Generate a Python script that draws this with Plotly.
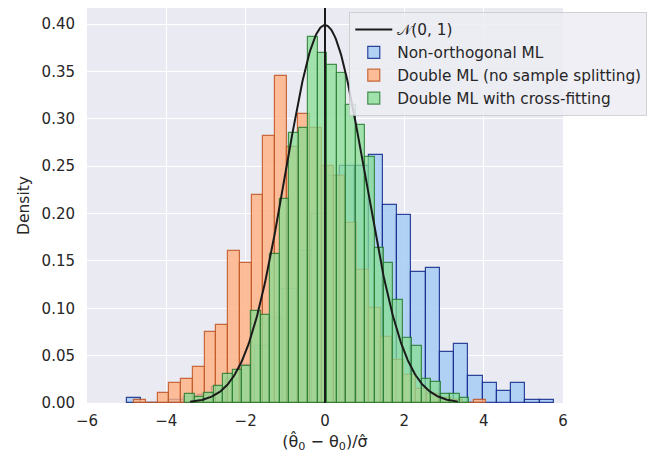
import numpy as np
import plotly.graph_objects as go

# ---------------- data ----------------
series_names = ["Non-orthogonal ML", "Double ML (no sample splitting)", "Double ML with cross-fitting"]
normal_label = "𝒩(0, 1)"

# histogram bin starts / widths (data units) and density heights (30 bins each)
blue_bin_start = -5.0
blue_bin_width = 0.359
blue_density = [0.0056, 0.0, 0.0, 0.003, 0.006, 0.008, 0.017, 0.025, 0.04, 0.06,
                0.09, 0.12, 0.16, 0.20, 0.24, 0.25, 0.25, 0.262, 0.209, 0.198,
                0.138, 0.142, 0.054, 0.062, 0.029, 0.021, 0.013, 0.021, 0.0028, 0.0028]

orange_bin_start = -4.81
orange_bin_width = 0.2957
orange_density = [0.0034, 0.0, 0.011, 0.021, 0.025, 0.038, 0.075, 0.082, 0.160, 0.148,
                  0.22, 0.282, 0.345, 0.27, 0.305, 0.29, 0.25, 0.24, 0.19, 0.14,
                  0.10, 0.07, 0.045, 0.03, 0.015, 0.01, 0.005, 0.0034, 0.0, 0.0034]

green_bin_start = -3.524
green_bin_width = 0.2386
green_density = [0.0098, 0.006, 0.011, 0.018, 0.031, 0.035, 0.039, 0.097, 0.093, 0.157,
                 0.215, 0.285, 0.29, 0.386, 0.369, 0.357, 0.348, 0.315, 0.294, 0.26,
                 0.164, 0.148, 0.109, 0.069, 0.06, 0.025, 0.022, 0.0098, 0.0098, 0.0056]

normal_x_range = [-3.4, 3.35]

x_ticks = [-6, -4, -2, 0, 2, 4, 6]
y_ticks = [0.0, 0.05, 0.10, 0.15, 0.20, 0.25, 0.30, 0.35, 0.40]
x_title = "(θ̂<sub>0</sub> − θ<sub>0</sub>)/σ̂"
y_title = "Density"

# ---------------- figure ----------------
FONT = "DejaVu Sans, sans-serif"
TXT = "#262626"

def centers(start, width, n):
    return [start + width * (i + 0.5) for i in range(n)]

fig = go.Figure()

hist_specs = [
    (blue_bin_start, blue_bin_width, blue_density, "rgba(161,201,244,0.8)", "rgba(15,40,140,0.85)"),
    (orange_bin_start, orange_bin_width, orange_density, "rgba(255,176,128,0.8)", "rgba(190,85,35,0.85)"),
    (green_bin_start, green_bin_width, green_density, "rgba(135,222,148,0.75)", "rgba(35,120,45,0.8)"),
]
for rank, (name, (s, w, d, fill, edge)) in enumerate(zip(series_names, hist_specs), start=2):
    fig.add_trace(go.Bar(
        x=centers(s, w, len(d)), y=d, width=w, name=name,
        marker=dict(color=fill, line=dict(color=edge, width=1.2)),
        legendrank=rank,
    ))

xs = np.linspace(normal_x_range[0], normal_x_range[1], 300)
ys = np.exp(-xs ** 2 / 2) / np.sqrt(2 * np.pi)
fig.add_trace(go.Scatter(x=xs, y=ys, mode="lines", name=normal_label,
                         line=dict(color="#1a1a1a", width=2), legendrank=1))

fig.add_shape(type="line", x0=0, x1=0, xref="x", y0=0, y1=1, yref="paper",
              line=dict(color="#1a1a1a", width=2), layer="above")

fig.update_layout(
    width=657, height=459,
    margin=dict(l=87, r=94, t=8, b=56, autoexpand=False),
    paper_bgcolor="white", plot_bgcolor="#EAEAF2",
    barmode="overlay", bargap=0,
    font=dict(family=FONT, size=15, color=TXT),
    legend=dict(x=0.551, y=0.99, xanchor="left", yanchor="top", itemwidth=37,
                bgcolor="rgba(236,236,243,0.85)", bordercolor="rgba(200,200,200,0.8)",
                borderwidth=1, font=dict(size=15.3, color=TXT), tracegroupgap=0),
    xaxis=dict(range=[-6, 6], tickvals=x_ticks, showgrid=True, gridcolor="white", gridwidth=1.3,
               zeroline=False, showline=False, ticks="outside", ticklen=4, tickcolor="rgba(0,0,0,0)",
               title=dict(text=x_title, standoff=6, font=dict(size=16)), tickfont=dict(size=15),
               automargin=False),
    yaxis=dict(range=[0, 0.417], tickvals=y_ticks, tickformat=".2f", showgrid=True, gridcolor="white",
               gridwidth=1.3, zeroline=False, showline=False, ticks="outside", ticklen=8,
               tickcolor="rgba(0,0,0,0)", title=dict(text=y_title, standoff=8, font=dict(size=15.5)),
               tickfont=dict(size=15), automargin=False),
)

fig.write_html("out.html", config={"displayModeBar": False},
               post_script="document.body.style.margin='0';document.body.style.overflow='hidden';")
